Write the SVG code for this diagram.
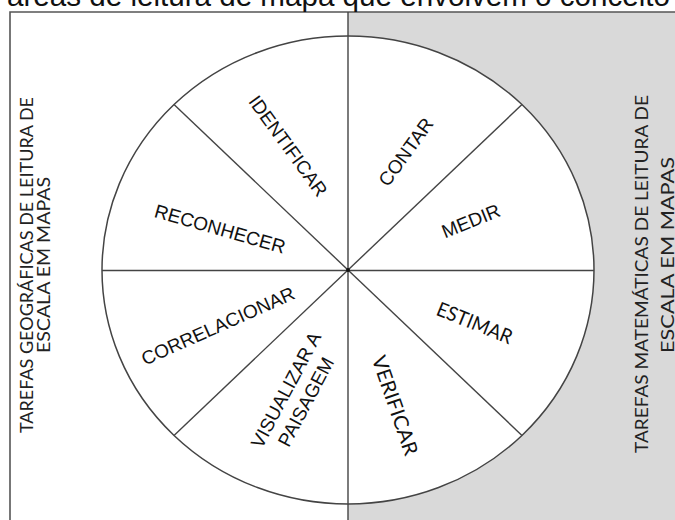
<svg xmlns="http://www.w3.org/2000/svg" width="675" height="520" viewBox="0 0 675 520">
  <style>
    .frame { fill: none; stroke: #555; stroke-width: 1.6; }
    .div { stroke: #444; stroke-width: 1.4; fill: none; }
    .lbl { font-family: "Liberation Sans", Arial, sans-serif; font-size: 19px; fill: #111; text-anchor: middle; dominant-baseline: central; }
    .lbl2 { font-family: Lato, "Open Sans", sans-serif; font-size: 20px; fill: #111; text-anchor: middle; dominant-baseline: central; }
    .side { font-family: Lato, "Open Sans", sans-serif; font-size: 18px; fill: #222; text-anchor: middle; }
    .title { font-family: "Liberation Sans", Arial, sans-serif; font-size: 29.6px; fill: #111; }
  </style>

  <!-- background panels -->
  <rect x="0" y="0" width="675" height="520" fill="#ffffff"/>
  <rect x="348" y="12" width="327" height="508" fill="#d9d9d9"/>
  <path class="frame" d="M10,520 V12 H675"/>

  <!-- heading line, clipped by the top edge -->
  <text class="title" x="7" y="6" textLength="663" lengthAdjust="spacingAndGlyphs">áreas de leitura de mapa que envolvem o conceito</text>

  <!-- side captions -->
  <g id="geo-caption">
    <text class="side" transform="translate(33,265) rotate(-90)" x="0" y="0" textLength="336" lengthAdjust="spacingAndGlyphs">TAREFAS GEOGRÁFICAS DE LEITURA DE</text>
    <text class="side" transform="translate(50,265) rotate(-90)" x="0" y="0" textLength="176" lengthAdjust="spacingAndGlyphs">ESCALA EM MAPAS</text>
  </g>
  <g id="mat-caption">
    <text class="side" transform="translate(648,274) rotate(-90)" x="0" y="0" textLength="358" lengthAdjust="spacingAndGlyphs">TAREFAS MATEMÁTICAS DE LEITURA DE</text>
    <text class="side" transform="translate(674,255) rotate(-90)" x="0" y="0" textLength="196" lengthAdjust="spacingAndGlyphs">ESCALA EM MAPAS</text>
  </g>

  <!-- wheel -->
  <ellipse id="wheel" cx="348" cy="270" rx="246" ry="234" fill="#ffffff" stroke="#444" stroke-width="1.5"/>

  <g id="connectors">
    <line class="div" x1="348" y1="12" x2="348" y2="520"/>
    <line class="div" x1="102" y1="270.5" x2="594" y2="270.5"/>
    <line class="div" x1="348" y1="270" x2="174" y2="104.5"/>
    <line class="div" x1="348" y1="270" x2="522" y2="104.5"/>
    <line class="div" x1="348" y1="270" x2="174" y2="435.5"/>
    <line class="div" x1="348" y1="270" x2="522" y2="435.5"/>
    <circle cx="348" cy="270" r="2" fill="#111"/>
  </g>

  <!-- segment labels -->
  <g id="identificar"><text class="lbl" transform="translate(288,146) rotate(54)">IDENTIFICAR</text></g>
  <g id="contar"><text class="lbl" transform="translate(406,152) rotate(-54)">CONTAR</text></g>
  <g id="medir"><text class="lbl" transform="translate(471,221) rotate(-22)">MEDIR</text></g>
  <g id="reconhecer"><text class="lbl" transform="translate(220,229) rotate(16)">RECONHECER</text></g>
  <g id="correlacionar"><text class="lbl" transform="translate(218,326) rotate(-24)">CORRELACIONAR</text></g>
  <g id="visualizar">
    <text class="lbl" transform="translate(286,390) rotate(-62)">VISUALIZAR A</text>
    <text class="lbl" transform="translate(306,402) rotate(-62)">PAISAGEM</text>
  </g>
  <g id="estimar"><text class="lbl2" transform="translate(475,322) rotate(22)" textLength="80" lengthAdjust="spacingAndGlyphs">ESTIMAR</text></g>
  <g id="verificar"><text class="lbl2" transform="translate(396,405) rotate(71)" textLength="104" lengthAdjust="spacingAndGlyphs">VERIFICAR</text></g>
</svg>
